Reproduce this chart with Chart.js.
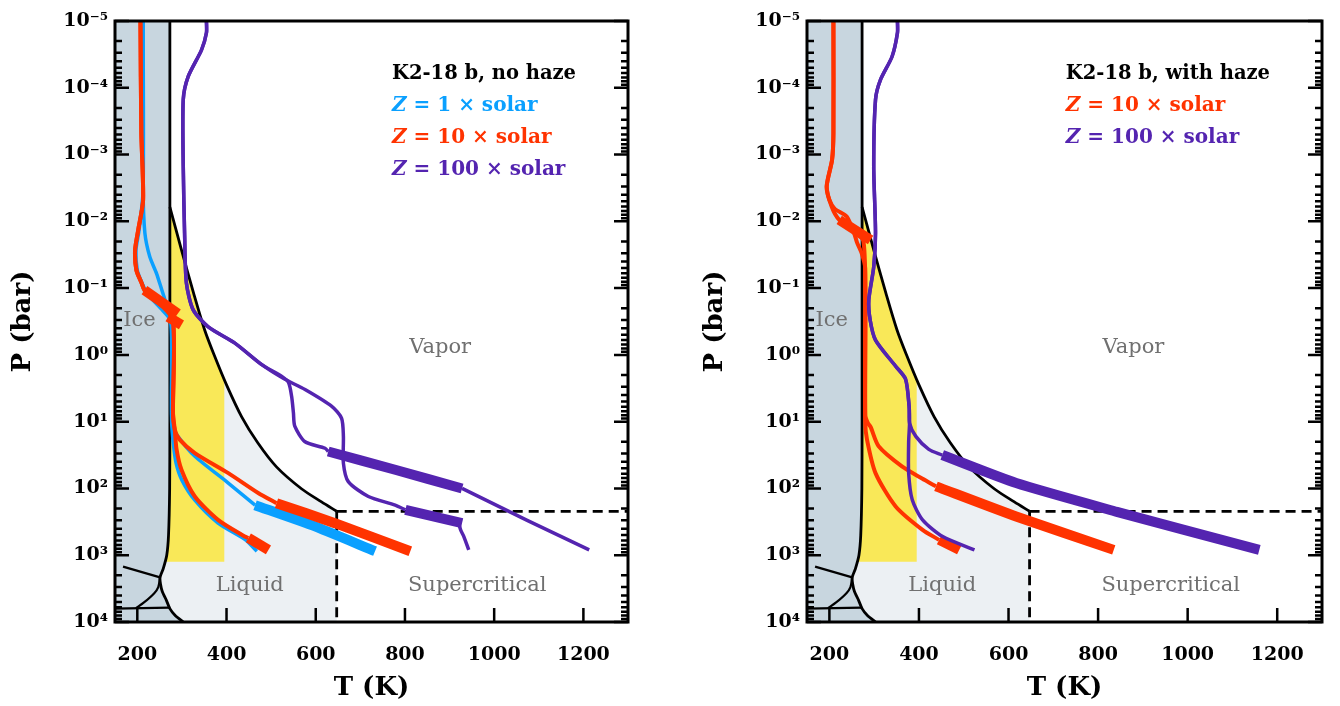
<!DOCTYPE html>
<html lang="en">
<head>
<meta charset="UTF-8">
<title>K2-18 b pressure-temperature profiles</title>
<script src="https://cdn.jsdelivr.net/npm/chart.js"></script>
<style>
    body { margin: 0; background: #fff; }
    .panel { position: absolute; top: 0; height: 706px; }
    #left { left: 0; width: 692px; }
    #right { left: 692px; width: 648px; }
</style>
</head>
<body>
<div class="panel" id="left"><canvas id="noHaze"></canvas></div>
<div class="panel" id="right"><canvas id="withHaze"></canvas></div>
<script>
// axes (T in K, P in bar)
const tMin = 150, tMax = 1300;
const pMin = 1e-5, pMax = 1e4;
const tempTicks = [200, 400, 600, 800, 1000, 1200];
const pDecades = [1e-5, 1e-4, 1e-3, 1e-2, 1e-1, 1e0, 1e1, 1e2, 1e3, 1e4];
const pTickLabels = ['10⁻⁵', '10⁻⁴', '10⁻³', '10⁻²', '10⁻¹', '10⁰', '10¹', '10²', '10³', '10⁴'];

// water phase diagram
const meltCurve = [[273,1e-5],[273,10],[272.5,100],[270,500],[266,1000],[258,1600],[251,2150],[252,2700],[256,3500],[265,4700],[273,6300],[285,8000],[303,1e4]];
const boilCurve = [[273,0.0061],[299,0.0268],[326,0.118],[351,0.423],[373,1.03],[400,2.81],[434,8.47],[470,20.7],[512,47.5],[568,101],[613,159],[647,220]];
const iceLineA = [[168,1480],[251,2150]];
const iceLineB = [[251,2150],[247,3000],[238,3700],[215,5100],[197,6200]];
const iceLineC = [[150,6300],[272,6100]];
const critical = [647, 220];
const habitable = [[273,0.0061],[299,0.0268],[326,0.118],[351,0.423],[373,1.03],[395,2.34],[395,1250],[262,1250],[266,1000],[270,500],[272.5,100],[273,10]];

// region names
const regionNames = ['Ice', 'Vapor', 'Liquid', 'Supercritical'];
const regionT = [205, 879, 452, 962];
const regionP = [0.31, 0.785, 2870, 2870];

// no haze: Z = 1, 10, 100 x solar
const z1ProfileA = [[213,1e-5],[213,3.4e-3],[217,0.015],[228,0.034],[243,0.06],[255,0.107],[262,0.15],[270,0.24],[276,0.36],[277,1],[277,8],[280,12],[291,16.6],[329,33],[404,83],[464,178]];
const z1ThickA = [[464,178],[591,355],[733,871]];
const z1ProfileB = [[213,1e-5],[213,3.4e-3],[204,0.0135],[197,0.027],[200,0.054],[211,0.085],[222,0.12],[252,0.2],[274,0.3],[277,0.6],[277,10],[281,22],[287,42],[300,75],[329,150],[381,330],[441,580],[468,870]];

const z10Upper = [[207,1e-5],[209,4.8e-4],[213,4.8e-3],[202,0.0135],[195,0.027],[198,0.054],[210,0.085],[216,0.107],[250,0.17],[280,0.3],[280,7.4],[284,13.2]];
const z10ProfileA = z10Upper.concat([[295,18.6],[329,29.5],[404,59],[471,117],[512,166]]);
const z10ThickA = [[512,166],[643,331],[812,871]];
const z10ProfileB = z10Upper.concat([[288,26],[299,52.5],[329,132],[381,295],[441,525],[449,550]]);
const z10ThickB = [[449,550],[494,832]];
const z10ThickTop1 = [[216,0.107],[291,0.24]];
const z10ThickTop2 = [[269,0.27],[299,0.355]];

const z100Upper = [[355,1e-5],[355,1.5e-5],[344,2.7e-5],[314,6.8e-5],[303,1.5e-4],[303,1.5e-3],[306,0.015],[310,0.083],[325,0.21],[359,0.38],[418,0.66],[479,1.4]];
const z100ProfileA = z100Upper.concat([[530,2.3],[576,3.3],[636,5.9],[658,8.9],[662,16.6],[662,41.7],[673,79],[718,132],[778,178],[801,209]]);
const z100ThickA = [[801,209],[928,331]];
const z100TailA = [[921,340],[925,420],[932,525],[943,832]];
const z100ProfileB = z100Upper.concat([[524,2.1],[539,2.6],[546,4.2],[550,7.4],[553,11.7],[576,20],[621,25],[628,28]]);
const z100ThickB = [[628,28],[778,52.5],[928,100]];
const z100TailB = [[928,100],[1074,300],[1213,832]];

// with haze: Z = 10, 100 x solar
const h10Upper = [[209,1e-5],[209,4.8e-4],[206,1.2e-3],[194,3.0e-3]];
const h10ProfileA = h10Upper.concat([[205,6.0e-3],[222,9.5e-3],[258,0.014],[276,0.02],[280,0.1],[280,8],[286,10.5],[292,12],[310,23.4],[362,46.8],[407,71],[438,93]]);
const h10ThickTop = [[222,9.5e-3],[292,0.019]];
const h10ThickA = [[438,93],[617,263],[835,832]];
const h10ProfileB = h10Upper.concat([[200,4.8e-3],[212,6.5e-3],[239,8.5e-3],[255,0.015],[262,0.021],[272,0.03],[280,0.05],[280,10],[284,18.6],[303,59],[348,186],[408,417],[445,589]]);
const h10ThickB = [[445,589],[490,832]];

const h100Upper = [[352,1e-5],[352,1.5e-5],[340,3.4e-5],[314,7.6e-5],[303,1.5e-4],[299,1.5e-3],[303,0.015],[299,0.048],[288,0.15],[291,0.3],[303,0.6],[348,1.48],[370,2.3],[378,5.9],[379,10.5]];
const h100ProfileA = h100Upper.concat([[393,16.6],[422,26],[452,31.6]]);
const h100ThickA = [[452,31.6],[617,83],[842,224],[992,417],[1160,832]];
const h100ProfileB = h100Upper.concat([[377,20],[377,59],[385,148],[408,295],[453,525],[524,832]]);

const blue = '#0aa0ff', red = '#ff3300', purple = '#5424b0';
const serif = 'DejaVu Serif';

const pts = arr => arr.map(([x, y]) => ({x: x, y: y}));
function area(arr, color) {
    return { data: pts(arr), borderWidth: 0, backgroundColor: color, fill: 'shape', tension: 0 };
}
function curve(arr, color, width, tension, dash) {
    return { data: pts(arr), borderColor: color, borderWidth: width, fill: false, tension: tension, borderDash: dash || [] };
}

function phaseDatasets() {
    const liquid = boilCurve.concat([[critical[0], pMax]], meltCurve.slice(1).reverse());
    const ice = [[tMin, pMin]].concat(meltCurve, [[tMin, pMax]]);
    return [
        area(liquid, '#ecf0f3'),
        area(habitable, '#f9e858'),
        area(ice, '#c8d6df'),
        curve(iceLineA, '#000', 2.2, 0),
        curve(iceLineB, '#000', 2.2, 0.3),
        curve(iceLineC, '#000', 2.2, 0),
        curve(meltCurve, '#000', 2.8, 0.2),
        curve(boilCurve, '#000', 2.8, 0.3),
        curve([critical, [tMax, critical[1]]], '#000', 2.8, 0, [10, 6]),
        curve([critical, [critical[0], pMax]], '#000', 2.8, 0, [10, 6])
    ];
}

const thin = 3.5, thick = 10;

function framePlugin(title, entries) {
    return {
        id: 'frameAndText',
        afterDraw(chart) {
            const {ctx, chartArea: a, scales: {x, y}} = chart;
            ctx.save();
            ctx.strokeStyle = '#000';
            ctx.lineWidth = 2.5;
            ctx.beginPath();
            tempTicks.forEach(t => {
                const px = x.getPixelForValue(t);
                ctx.moveTo(px, a.bottom);
                ctx.lineTo(px, a.bottom - 14);
            });
            pDecades.forEach(d => {
                for (let m = 1; m <= 9; m++) {
                    const v = d * m;
                    if (v > pMax) break;
                    const py = y.getPixelForValue(v);
                    const len = m === 1 ? 14 : 7;
                    ctx.moveTo(a.left, py); ctx.lineTo(a.left + len, py);
                    ctx.moveTo(a.right, py); ctx.lineTo(a.right - len, py);
                }
            });
            ctx.stroke();
            ctx.lineWidth = 3;
            ctx.strokeRect(a.left, a.top, a.right - a.left, a.bottom - a.top);

            // region names
            ctx.fillStyle = '#707070';
            ctx.font = '21px "' + serif + '"';
            ctx.textAlign = 'center';
            ctx.textBaseline = 'middle';
            regionNames.forEach((n, i) => {
                ctx.fillText(n, x.getPixelForValue(regionT[i]), y.getPixelForValue(regionP[i]));
            });

            // legend text
            ctx.textAlign = 'left';
            ctx.font = 'bold 19.5px "' + serif + '"';
            const x0 = a.right - 52 - ctx.measureText(title).width;
            let yy = a.top + 53;
            ctx.fillStyle = '#000';
            ctx.fillText(title, x0, yy);
            entries.forEach(e => {
                yy += 32;
                ctx.fillStyle = e.color;
                ctx.font = 'italic bold 20px "' + serif + '"';
                ctx.fillText('Z', x0, yy);
                const w = ctx.measureText('Z').width;
                ctx.font = 'bold 20px "' + serif + '"';
                ctx.fillText(' = ' + e.label, x0 + w, yy);
            });
            ctx.restore();
        }
    };
}

function makeChart(id, profiles, title, entries, padRight) {
    const datasets = phaseDatasets().concat(profiles);
    datasets.forEach((d, i) => { d.order = datasets.length - i; });
    return new Chart(document.getElementById(id), {
        type: 'line',
        data: { datasets: datasets },
        options: {
            responsive: true,
            maintainAspectRatio: false,
            animation: false,
            events: [],
            layout: { padding: { top: 21, right: padRight, bottom: 0, left: 0 } },
            elements: {
                point: { radius: 0, hitRadius: 0 },
                line: { borderCapStyle: 'butt', borderJoinStyle: 'round' }
            },
            plugins: { legend: { display: false }, tooltip: { enabled: false } },
            scales: {
                x: {
                    type: 'linear', min: tMin, max: tMax,
                    afterBuildTicks: s => { s.ticks = tempTicks.map(v => ({ value: v })); },
                    afterFit: s => { s.height = 84; },
                    grid: { display: false, drawTicks: false },
                    border: { display: false },
                    ticks: { padding: 22, color: '#000', autoSkip: false, maxRotation: 0,
                             callback: v => String(v),
                             font: { family: serif, weight: 'bold', size: 19 } },
                    title: { display: true, text: 'T (K)', color: '#000',
                             font: { family: serif, weight: 'bold', size: 26 }, padding: { top: 0, bottom: 2 } }
                },
                y: {
                    type: 'logarithmic', min: pMin, max: pMax, reverse: true,
                    afterBuildTicks: s => { s.ticks = pDecades.map(v => ({ value: v, major: true })); },
                    afterFit: s => { s.width = 115; },
                    grid: { display: false, drawTicks: false },
                    border: { display: false },
                    ticks: { padding: 7, color: '#000', autoSkip: false,
                             callback: (v, i) => pTickLabels[i],
                             font: { family: serif, weight: 'bold', size: 19 } },
                    title: { display: true, text: 'P (bar)', color: '#000',
                             font: { family: serif, weight: 'bold', size: 26 }, padding: { top: 8, bottom: 0 } }
                }
            }
        },
        plugins: [framePlugin(title, entries)]
    });
}

makeChart('noHaze', [
    curve(z1ProfileB, blue, thin, 0.25),
    curve(z1ProfileA, blue, thin, 0.25),
    curve(z1ThickA, blue, thick, 0.2),
    curve(z10ProfileB, red, thin + 0.5, 0.25),
    curve(z10ProfileA, red, thin + 0.5, 0.25),
    curve(z10ThickTop1, red, thick, 0),
    curve(z10ThickTop2, red, thick, 0),
    curve(z10ThickA, red, thick, 0.2),
    curve(z10ThickB, red, thick, 0),
    curve(z100ProfileB, purple, thin, 0.25),
    curve(z100ProfileA, purple, thin, 0.25),
    curve(z100ThickA, purple, thick, 0),
    curve(z100TailA, purple, thin, 0.25),
    curve(z100ThickB, purple, thick, 0.2),
    curve(z100TailB, purple, thin, 0.2)
], 'K2-18 b, no haze', [
    { label: '1 × solar', color: blue },
    { label: '10 × solar', color: red },
    { label: '100 × solar', color: purple }
], 64);

makeChart('withHaze', [
    curve(h10ProfileB, red, thin + 0.5, 0.25),
    curve(h10ProfileA, red, thin + 0.5, 0.25),
    curve(h10ThickTop, red, thick, 0),
    curve(h10ThickA, red, thick, 0.2),
    curve(h10ThickB, red, thick, 0),
    curve(h100ProfileB, purple, thin, 0.25),
    curve(h100ProfileA, purple, thin, 0.25),
    curve(h100ThickA, purple, thick, 0.2)
], 'K2-18 b, with haze', [
    { label: '10 × solar', color: red },
    { label: '100 × solar', color: purple }
], 18);
</script>
</body>
</html>
